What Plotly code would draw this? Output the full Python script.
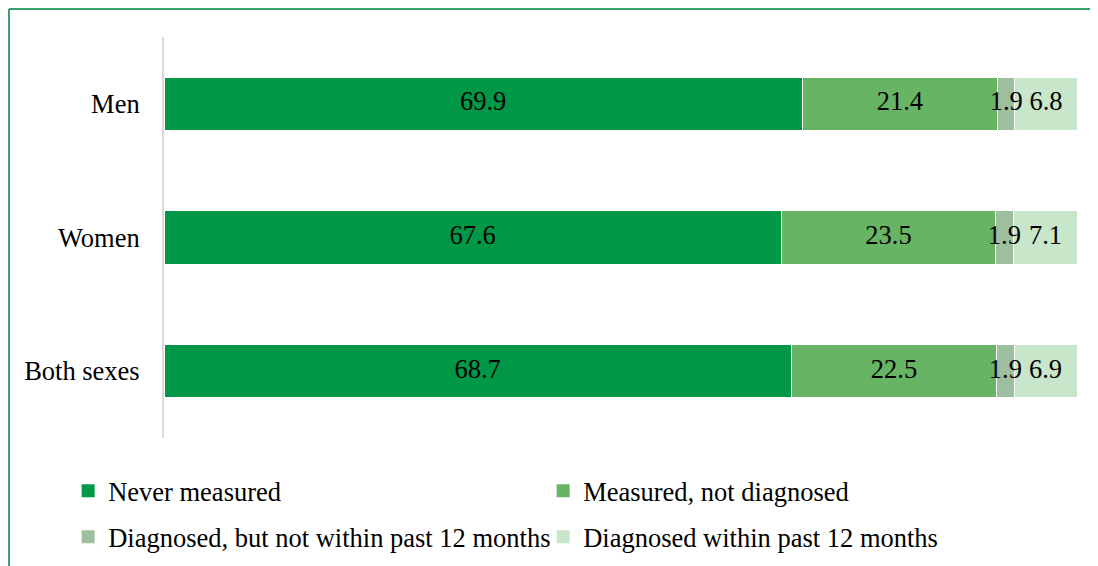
import plotly.graph_objects as go

# Data
categories = ['Men', 'Women', 'Both sexes']
series_names = [
  'Never measured',
  'Measured, not diagnosed',
  'Diagnosed, but not within past 12 months',
  'Diagnosed within past 12 months'
]
never_measured = [69.9, 67.6, 68.7]
measured_not_diagnosed = [21.4, 23.5, 22.5]
diagnosed_not_recent = [1.9, 1.9, 1.9]
diagnosed_recent = [6.8, 7.1, 6.9]

series_values = [never_measured, measured_not_diagnosed, diagnosed_not_recent, diagnosed_recent]
colors = ['#009846', '#66B464', '#9EBF9E', '#C8E6C9']
legend_ids = ['legend', 'legend', 'legend2', 'legend2']

FONT = 'Liberation Serif, Times New Roman, serif'
FSIZE = 26.5

fig = go.Figure()

# Bars
for name, vals, color in zip(series_names, series_values, colors):
  fig.add_trace(
    go.Bar(
      y=categories,
      x=vals,
      name=name,
      orientation='h',
      marker=dict(
        color=color,
        line=dict(color='white', width=1)
      ),
      showlegend=False,
      hoverinfo='x+name'
    )
  )

# Value labels on top of all bars (so narrow segments are not clipped)
base = [0.0] * len(categories)
for vals in series_values:
  mids = [b + v / 2 for b, v in zip(base, vals)]
  fig.add_trace(
    go.Scatter(
      x=mids,
      y=categories,
      mode='text',
      text=[f'{v:.1f}' for v in vals],
      textposition='middle center',
      textfont=dict(family=FONT, size=FSIZE, color='black'),
      showlegend=False,
      hoverinfo='skip'
    )
  )
  base = [b + v for b, v in zip(base, vals)]

# Legend entries (square markers)
for name, color, leg in zip(series_names, colors, legend_ids):
  fig.add_trace(
    go.Scatter(
      x=[None],
      y=[None],
      mode='markers',
      name=name,
      marker=dict(symbol='square', size=13, color=color),
      legend=leg
    )
  )

# Frame lines (top and left) like the original chart border
frame_color = '#3A9E6A'
fig.add_shape(type='line', xref='paper', yref='paper',
              x0=-0.1698, x1=1.1, y0=1.0698, y1=1.0698,
              line=dict(color=frame_color, width=2))
fig.add_shape(type='line', xref='paper', yref='paper',
              x0=-0.1698, x1=-0.1698, y0=1.0698, y1=-0.5,
              line=dict(color=frame_color, width=2))

legend_common = dict(
  orientation='h',
  xanchor='left',
  yanchor='middle',
  entrywidth=430,
  entrywidthmode='pixels',
  font=dict(family=FONT, size=FSIZE, color='black'),
  bgcolor='rgba(0,0,0,0)',
  traceorder='normal',
  itemsizing='trace'
)

fig.update_layout(
  width=1098,
  height=566,
  barmode='stack',
  bargap=0.6,
  plot_bgcolor='white',
  paper_bgcolor='white',
  font=dict(family=FONT, size=FSIZE, color='black'),
  margin=dict(l=156, r=29, t=29, b=136, autoexpand=False),
  xaxis=dict(
    range=[0, 100],
    showticklabels=False,
    showgrid=False,
    zeroline=False,
    showline=False,
    fixedrange=True
  ),
  yaxis=dict(
    autorange='reversed',
    showline=True,
    linecolor='#D9D9D9',
    linewidth=2,
    showgrid=False,
    zeroline=False,
    ticks='',
    ticklabelstandoff=17,
    tickfont=dict(family=FONT, size=FSIZE, color='black')
  ),
  legend=dict(x=-0.105, y=-0.132, **legend_common),
  legend2=dict(x=-0.105, y=-0.247, **legend_common),
  showlegend=True
)

fig.write_html('out.html')
